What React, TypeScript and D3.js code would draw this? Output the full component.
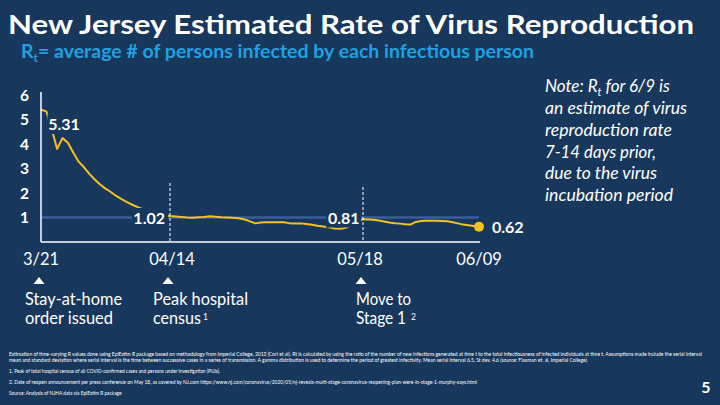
import React from "react";
import * as d3 from "d3";

// ---- data ----
const startDate = "2020-03-21";
const tickDates = ["2020-03-21", "2020-04-14", "2020-05-18", "2020-06-09"];
const tickLabels = ["3/21", "04/14", "05/18", "06/09"];
const yTicks = [1, 2, 3, 4, 5, 6];
// Rt, 3/21 .. 4/14 (daily)
const rtPeriod1 = [5.4, 5.33, 4.6, 3.8, 4.24, 4.05, 3.65, 3.28, 3.05, 2.78, 2.55, 2.35, 2.18, 2.04, 1.88, 1.75, 1.63, 1.52, 1.42, 1.34, 1.26, 1.2, 1.14, 1.09, 1.06];
// Rt, 4/15 .. 5/18
const rtPeriod2 = [1.04, 1.02, 1.0, 0.99, 1.01, 1.02, 1.05, 1.03, 1.01, 1.0, 0.99, 0.97, 0.93, 0.85, 0.76, 0.8, 0.81, 0.81, 0.81, 0.81, 0.77, 0.76, 0.76, 0.73, 0.7, 0.66, 0.63, 0.6, 0.55, 0.54, 0.58, 0.7, 0.82, 0.93];
// Rt, 5/19 .. 6/9
const rtPeriod3 = [0.92, 0.91, 0.88, 0.84, 0.8, 0.77, 0.75, 0.72, 0.71, 0.82, 0.86, 0.87, 0.87, 0.87, 0.86, 0.85, 0.81, 0.76, 0.71, 0.68, 0.65, 0.62];
const calloutDates = ["2020-03-21", "2020-04-14", "2020-05-18", "2020-06-09"];
const calloutTexts = ["5.31", "1.02", "0.81", "0.62"];
const milestoneDates = ["2020-03-21", "2020-04-14", "2020-05-18"];
const noteLines = ["an estimate of virus", "reproduction rate", "7-14 days prior,", "due to the virus", "incubation period"];
const footnotes = [
  "Estimation of time-varying R values done using EpiEstim R package based on methodology from Imperial College, 2013 (Cori et al).    Rt is calculated by using the ratio of the number of new infections generated at time t to the total infectiousness of infected individuals at time t.  Assumptions made include the serial interval",
  "mean and standard deviation where serial interval is the time between successive cases in a series of transmission.  A gamma distribution is used to determine the period of greatest infectivity.  Mean serial interval 6.5, St dev. 4.6 (source: Flaxman et. al, Imperial College).",
  "1. Peak of total hospital census of all COVID-confirmed cases and persons under investigation (PUIs).",
  "2. Date of reopen announcement per press conference on May 18, as covered by NJ.com https://www.nj.com/coronavirus/2020/05/nj-reveals-multi-stage-coronavirus-reopening-plan-were-in-stage-1-murphy-says.html",
  "Source: Analysis of NJHA data via EpiEstim R package",
];

const BG = "#18375D";
const YELLOW = "#F3C21C";
const REF = "#3A5C9A";
const FONT = "Lato, 'Open Sans', sans-serif";

const parse = (s: string) => new Date(s + "T00:00:00");

export default function App() {
  const values = [...rtPeriod1, ...rtPeriod2, ...rtPeriod3];
  const start = parse(startDate);
  const series: [Date, number][] = values.map((v, i) => [d3.timeDay.offset(start, i), v]);

  const x = d3.scaleTime().domain(tickDates.map(parse)).range([41, 170, 363, 479]);
  const y = d3.scaleLinear().domain([0, 6]).range([242, 95]);
  const line = d3
    .line<[Date, number]>()
    .x((d) => x(d[0]))
    .y((d) => y(d[1]))
    .curve(d3.curveLinear);

  const x0 = x(parse(tickDates[0]));
  const x1 = x(parse(tickDates[3]));
  const last = series[series.length - 1];

  const cx = calloutDates.map((d) => x(parse(d)));
  const mx = milestoneDates.map((d) => x(parse(d)));

  return (
    <svg width={720} height={405} style={{ position: "absolute", left: 0, top: 0, display: "block" }} fontFamily={FONT}>
      <rect width={720} height={405} fill={BG} />
      {/* title */}
      <text x={8} y={34} fill="#fff" fontSize={26} fontWeight={700} textLength={686} lengthAdjust="spacingAndGlyphs">
        New Jersey Estimated Rate of Virus Reproduction
      </text>
      <text x={21} y={58} fill="#20A0E0" fontSize={19.5} fontWeight={700}>
        R<tspan fontSize={12} dy={4}>t</tspan>
        <tspan dy={-4}>= average # of persons infected by each infectious person</tspan>
      </text>

      {/* reference line at 1 */}
      <line x1={x0} x2={x1} y1={y(1)} y2={y(1)} stroke={REF} strokeWidth={2.5} />
      {/* Rt line */}
      <path d={line(series) || ""} fill="none" stroke={YELLOW} strokeWidth={2} strokeLinejoin="round" />

      {/* label knock-out boxes */}
      <rect x={cx[0] + 6.5} y={114} width={34} height={20} fill={BG} />
      <rect x={cx[1] - 38} y={208} width={36} height={20} fill={BG} />
      <rect x={cx[2] - 37} y={208} width={35} height={19.5} fill={BG} />

      {/* axes */}
      <line x1={x0} x2={x0} y1={92} y2={y(0)} stroke="#fff" strokeWidth={1.5} />
      <line x1={x0} x2={x1 + 1} y1={y(0)} y2={y(0)} stroke="#fff" strokeWidth={1.5} />
      {yTicks.map((t) => (
        <text key={t} x={24.5} y={y(t) + 5.5} fill="#fff" fontSize={15.5} fontWeight={700} textAnchor="middle">
          {t}
        </text>
      ))}
      {tickLabels.map((t, i) => (
        <text key={t} x={x(parse(tickDates[i])) + (i === 2 ? -3 : i === 1 ? 2 : 0)} y={265} fill="#fff" fontSize={16.5} textAnchor="middle">
          {t}
        </text>
      ))}

      {/* dashed milestone lines */}
      <line x1={mx[1]} x2={mx[1]} y1={183} y2={y(0)} stroke="#fff" strokeWidth={1} strokeDasharray="3,2" />
      <line x1={mx[2]} x2={mx[2]} y1={187} y2={y(0)} stroke="#fff" strokeWidth={1} strokeDasharray="3,2" />

      {/* value callouts */}
      <text x={cx[0] + 23} y={130} fill="#fff" fontSize={16} fontWeight={700} textAnchor="middle">{calloutTexts[0]}</text>
      <text x={cx[1] - 5} y={224} fill="#fff" fontSize={16} fontWeight={700} textAnchor="end">{calloutTexts[1]}</text>
      <text x={cx[2] - 35} y={224} fill="#fff" fontSize={16} fontWeight={700}>{calloutTexts[2]}</text>
      <circle cx={x(last[0])} cy={y(last[1])} r={5} fill={YELLOW} />
      <text x={cx[3] + 13} y={233} fill="#fff" fontSize={16} fontWeight={700}>{calloutTexts[3]}</text>

      {/* milestones */}
      {mx.map((m, i) => (
        <path key={i} d={`M${m - 2},277 L${m + 3.5},284 L${m - 7.5},284 Z`} fill="#fff" />
      ))}
      <g fill="#fff" fontSize={17}>
        <text x={25} y={305} textLength={97} lengthAdjust="spacingAndGlyphs">Stay-at-home</text>
        <text x={25} y={324} textLength={88} lengthAdjust="spacingAndGlyphs">order issued</text>
        <text x={153} y={305} textLength={95} lengthAdjust="spacingAndGlyphs">Peak hospital</text>
        <text x={153} y={324} textLength={48} lengthAdjust="spacingAndGlyphs">census</text>
        <text x={203} y={320} fontSize={8.5}>1</text>
        <text x={356} y={305} textLength={55} lengthAdjust="spacingAndGlyphs">Move to</text>
        <text x={356} y={324} textLength={50} lengthAdjust="spacingAndGlyphs">Stage 1</text>
        <text x={411} y={320} fontSize={8.5}>2</text>
      </g>

      {/* note */}
      <g fill="#fff" fontSize={17} fontStyle="italic">
        <text x={545} y={92}>
          Note: R<tspan fontSize={11} dy={4}>t</tspan>
          <tspan dy={-4}> for 6/9 is</tspan>
        </text>
        {noteLines.map((l, i) => (
          <text key={i} x={545} y={114 + i * 21.8} textLength={[142, 127, 111, 112, 128][i]} lengthAdjust="spacingAndGlyphs">
            {l}
          </text>
        ))}
      </g>

      {/* footnotes */}
      <g fill="#fff" fontSize={4.8}>
        <text x={9} y={356} textLength={693} lengthAdjust="spacingAndGlyphs">{footnotes[0]}</text>
        <text x={9} y={362} textLength={579} lengthAdjust="spacingAndGlyphs">{footnotes[1]}</text>
        <text x={9} y={373}>{footnotes[2]}</text>
        <text x={9} y={384} textLength={468} lengthAdjust="spacingAndGlyphs">{footnotes[3]}</text>
        <text x={9} y={395}>{footnotes[4]}</text>
      </g>
      <text x={706} y={393} fill="#fff" fontSize={16} fontWeight={700} textAnchor="middle">5</text>
    </svg>
  );
}
